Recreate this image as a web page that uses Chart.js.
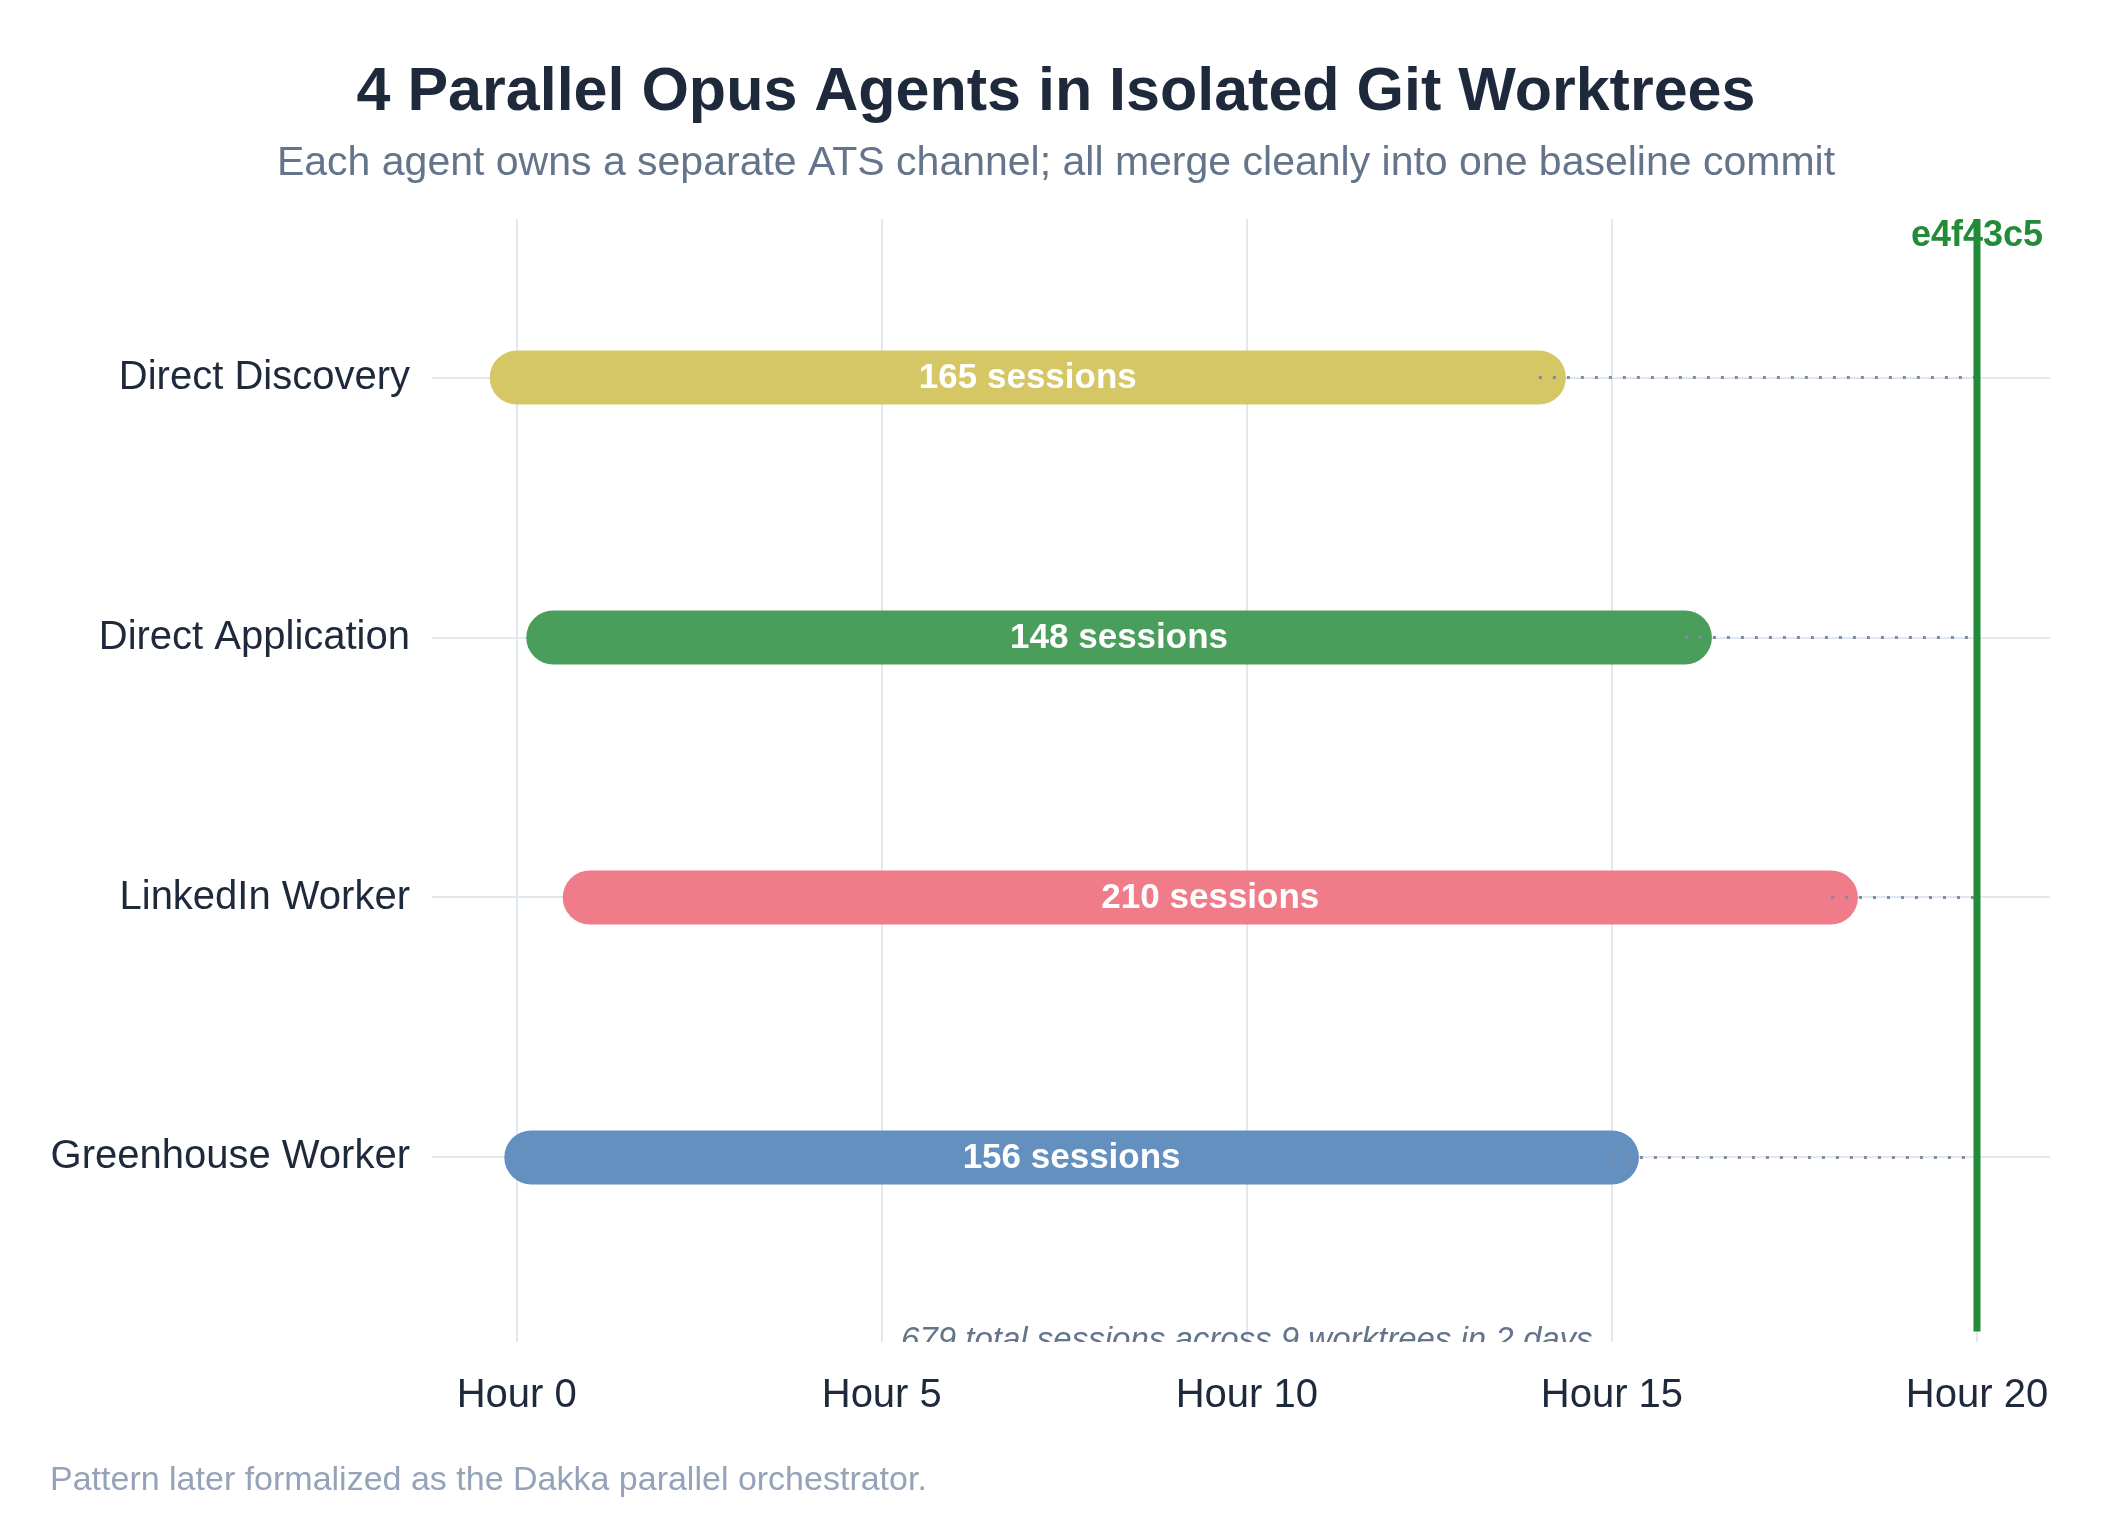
<!DOCTYPE html>
<html>
<head>
<meta charset="utf-8">
<script src="https://cdn.jsdelivr.net/npm/chart.js@4.4.0/dist/chart.umd.min.js"></script>
<style>
  body { margin: 0; background: #fff; }
  #wrap { width: 2125px; height: 1535px; position: relative; }
</style>
</head>
<body>
<div id="wrap"><canvas id="myChart"></canvas></div>
<script>
const agents = ['Direct Discovery', 'Direct Application', 'LinkedIn Worker', 'Greenhouse Worker'];
const startHours = [0, 0.5, 1, 0.2];
const endHours = [14, 16, 18, 15];
const sessions = [165, 148, 210, 156];
const barColors = ['#d5c766', '#4a9e5c', '#f07c8a', '#6390bf'];
const hourTicks = [0, 5, 10, 15, 20];
const mergeHour = 20;
const mergeCommit = 'e4f43c5';

const FONT = '"Liberation Sans", Arial, sans-serif';

const datasets = [];
agents.forEach((name, i) => {
  datasets.push({
    label: name,
    data: [{ x: startHours[i], y: i }, { x: endHours[i], y: i }],
    borderColor: barColors[i],
    borderWidth: 54,
    borderCapStyle: 'round',
    pointRadius: 0,
    order: 3
  });
});
agents.forEach((name, i) => {
  datasets.push({
    label: name + ' wait',
    data: [{ x: endHours[i], y: i }, { x: mergeHour, y: i }],
    borderColor: '#7f8ea3',
    borderWidth: 3,
    borderDash: [3, 11],
    pointRadius: 0,
    order: 2
  });
});
datasets.push({
  label: 'merge',
  data: [{ x: mergeHour, y: -0.61 }, { x: mergeHour, y: 3.67 }],
  borderColor: '#238b37',
  borderWidth: 7,
  pointRadius: 0,
  order: 1
});

const textPlugin = {
  id: 'texts',
  afterDatasetsDraw(chart) {
    const { ctx, scales: { x, y }, chartArea } = chart;
    ctx.save();
    // session labels
    ctx.fillStyle = '#ffffff';
    ctx.font = 'bold 35px ' + FONT;
    ctx.textAlign = 'center';
    ctx.textBaseline = 'middle';
    agents.forEach((a, i) => {
      const cx = x.getPixelForValue((startHours[i] + endHours[i]) / 2);
      ctx.fillText(sessions[i] + ' sessions', cx, y.getPixelForValue(i) + 1);
    });
    // commit label
    ctx.fillStyle = '#238b37';
    ctx.font = 'bold 36px ' + FONT;
    ctx.fillText(mergeCommit, x.getPixelForValue(mergeHour), 236);
    // note, clipped by the plot area
    ctx.beginPath();
    ctx.rect(chartArea.left, chartArea.top, chartArea.right - chartArea.left, chartArea.bottom - chartArea.top);
    ctx.clip();
    ctx.fillStyle = '#64748b';
    ctx.font = 'italic 33px ' + FONT;
    ctx.textBaseline = 'alphabetic';
    ctx.fillText('679 total sessions across 9 worktrees in 2 days', x.getPixelForValue(10), chartArea.bottom + 8);
    ctx.restore();
  },
  afterDraw(chart) {
    const { ctx } = chart;
    ctx.save();
    ctx.textAlign = 'center';
    ctx.textBaseline = 'alphabetic';
    ctx.fillStyle = '#1e293b';
    ctx.font = 'bold 61px ' + FONT;
    ctx.fillText('4 Parallel Opus Agents in Isolated Git Worktrees', 1056, 110);
    ctx.fillStyle = '#64748b';
    ctx.font = '41px ' + FONT;
    ctx.fillText('Each agent owns a separate ATS channel; all merge cleanly into one baseline commit', 1056, 175);
    ctx.textAlign = 'left';
    ctx.fillStyle = '#94a3b8';
    ctx.font = '34px ' + FONT;
    ctx.fillText('Pattern later formalized as the Dakka parallel orchestrator.', 50, 1490);
    ctx.restore();
  }
};

new Chart(document.getElementById('myChart').getContext('2d'), {
  type: 'line',
  data: { datasets },
  options: {
    responsive: true,
    maintainAspectRatio: false,
    devicePixelRatio: 1,
    animation: false,
    layout: { padding: { top: 219, right: 75, left: 0, bottom: 0 } },
    plugins: { legend: { display: false }, tooltip: { enabled: false } },
    scales: {
      x: {
        type: 'linear',
        min: -1.16,
        max: 21,
        afterBuildTicks: (s) => { s.ticks = hourTicks.map(v => ({ value: v })); },
        afterFit: (s) => { s.height = 1535 - 1353 + 11; },
        border: { display: false },
        grid: { color: '#e2e8f0', lineWidth: 2, drawTicks: false },
        ticks: {
          padding: 30,
          color: '#1e293b',
          font: { family: FONT, size: 40 },
          callback: (v) => 'Hour ' + v
        }
      },
      y: {
        type: 'linear',
        reverse: true,
        min: -0.61,
        max: 3.71,
        afterBuildTicks: (s) => { s.ticks = agents.map((a, i) => ({ value: i })); },
        afterFit: (s) => { s.width = 432; },
        border: { display: false },
        grid: { color: '#e2e8f0', lineWidth: 2, drawTicks: false },
        ticks: {
          padding: 22,
          color: '#1e293b',
          font: { family: FONT, size: 40 },
          callback: (v) => agents[v]
        }
      }
    }
  },
  plugins: [textPlugin]
});
</script>
</body>
</html>
